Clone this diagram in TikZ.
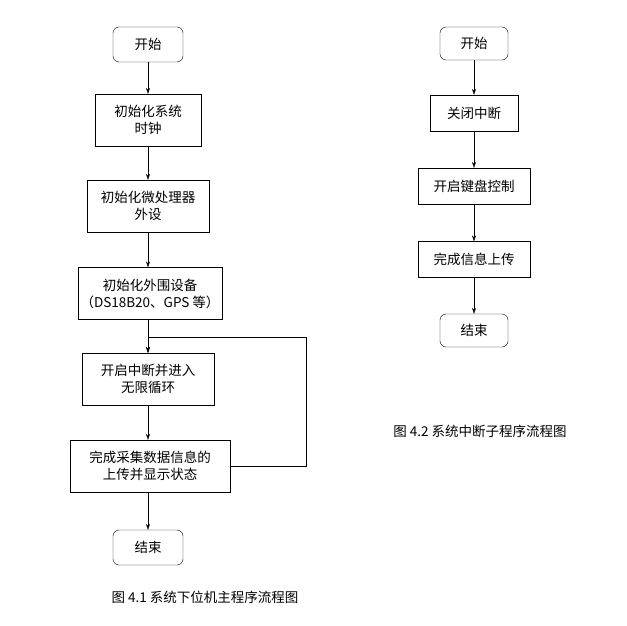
\documentclass[tikz,border=0pt]{standalone}
\usepackage{fontspec}
\setmainfont{Noto Sans CJK SC}
\usetikzlibrary{positioning,arrows.meta}

\begin{document}
\begin{tikzpicture}[x=1pt,y=-1pt,
	every node/.style={font=\fontsize{13.5}{17}\selectfont, align=center, inner sep=1pt},
	terminal/.style={draw, rounded corners=6pt, minimum width=70pt, minimum height=35pt},
	process/.style={draw, minimum height=52pt},
	proc/.style={draw, minimum height=36pt},
	>={Stealth[length=6pt,width=4pt]}]
		\useasboundingbox (0,0) rectangle (627,626);
		
		% left flow chart
		\node[terminal]                       (s1) at (148,44.5)  {开始};
		\node[process, minimum width=106pt]   (a1) at (148,120)   {初始化系统\\时钟};
		\node[process, minimum width=122pt]   (a2) at (148,206)   {初始化微处理器\\外设};
		\node[process, minimum width=144pt]   (a3) at (150,293.5) {初始化外围设备\\（DS18B20、GPS 等）};
		\node[process, minimum width=132pt]   (a4) at (148,379)   {开启中断并进入\\无限循环};
		\node[process, minimum width=160pt]   (a5) at (150,466)   {完成采集数据信息的\\上传并显示状态};
		\node[terminal]                       (e1) at (148,547.5) {结束};
		\node (c1) at (205,597) {图 4.1 系统下位机主程序流程图};
		\coordinate (r1) at (306,466);
		\coordinate (r2) at (306,337);
		\coordinate (r3) at (148,337);
		
		\draw[->] (s1) -- (a1);
		\draw[->] (a1) -- (a2);
		\draw[->] (a2) -- (a3.north -| a2);
		\draw[->] (a3.south -| a2) -- (a4);
		\draw[->] (a4) -- (a5.north -| a4);
		\draw[->] (a5.south -| a4) -- (e1);
		\draw[->] (a5.east) -- (r1) -- (r2) -- (r3) -- (a4.north);
		
		% right flow chart
		\node[terminal, minimum width=68pt, minimum height=33pt] (s2) at (474,43.5) {开始};
		\node[proc, minimum width=88pt]       (b1) at (474,113)   {关闭中断};
		\node[proc, minimum width=112pt]      (b2) at (474,186)   {开启键盘控制};
		\node[proc, minimum width=112pt]      (b3) at (474,259.5) {完成信息上传};
		\node[terminal, minimum width=68pt, minimum height=33pt] (e2) at (474,330.5) {结束};
		\node (c2) at (480,431) {图 4.2 系统中断子程序流程图};
		
		\draw[->] (s2) -- (b1);
		\draw[->] (b1) -- (b2);
		\draw[->] (b2) -- (b3);
		\draw[->] (b3) -- (e2);
\end{tikzpicture}
\end{document}
